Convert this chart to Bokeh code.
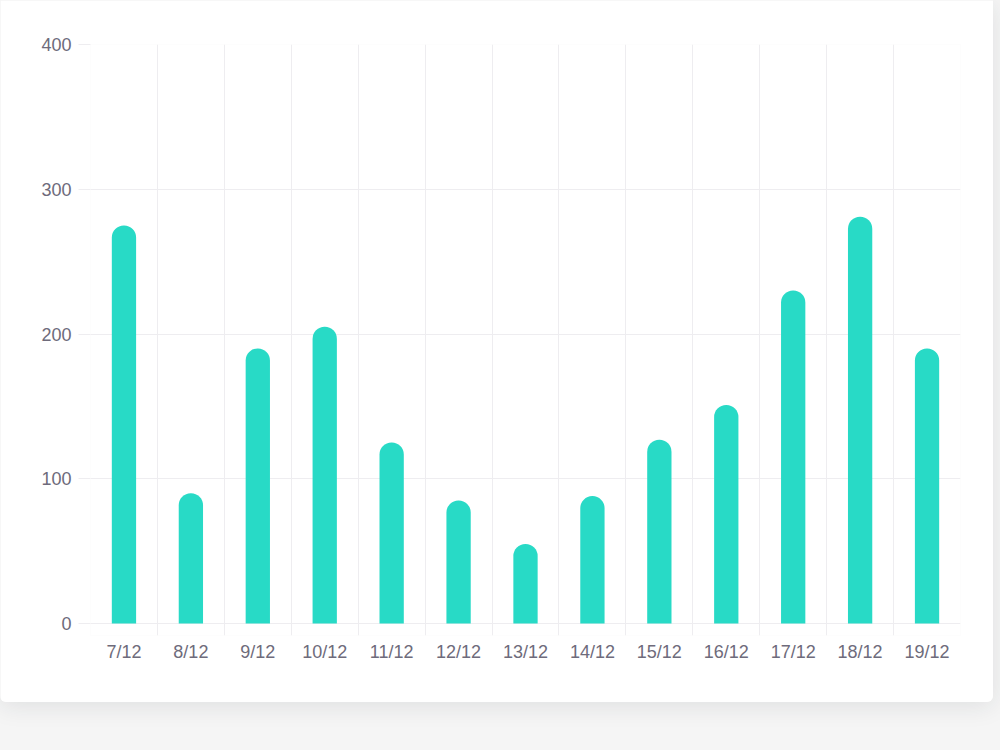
from bokeh.plotting import figure
from bokeh.models import ColumnDataSource, FixedTicker, Range1d
from bokeh.layouts import column
from bokeh.embed import file_html
from bokeh.resources import INLINE

dates = ["7/12", "8/12", "9/12", "10/12", "11/12", "12/12", "13/12",
         "14/12", "15/12", "16/12", "17/12", "18/12", "19/12"]
values = [275, 90, 190, 205, 125, 85, 55, 88, 127, 151, 230, 281, 190]
y_ticks = [0, 100, 200, 300, 400]

x = [i + 0.5 for i in range(len(dates))]
src = ColumnDataSource(dict(x=x, top=values, label=dates))

GRID = "#eeedf0"
TEXT = "#6e6b7b"
FONT = "Liberation Sans"

p = figure(width=993, height=702, x_range=Range1d(0, len(dates)),
           y_range=Range1d(-8.29, 400), output_backend="svg",
           toolbar_location=None, min_border_left=90, min_border_right=33,
           min_border_top=44, min_border_bottom=67)
p.outline_line_color = None
p.border_fill_color = "white"
p.background_fill_color = "white"

p.vbar(x="x", top="top", bottom=0, width=0.363, source=src,
       fill_color="#28dac6", line_color=None, border_radius=(12, 12, 0, 0))

p.xgrid.ticker = FixedTicker(ticks=list(range(len(dates))))
p.ygrid.ticker = FixedTicker(ticks=y_ticks)
p.xgrid.grid_line_color = GRID
p.ygrid.grid_line_color = GRID

p.xaxis.ticker = FixedTicker(ticks=x)
p.xaxis.major_label_overrides = {xi: d for xi, d in zip(x, dates)}
p.xaxis.axis_line_color = None
p.xaxis.major_tick_line_color = None
p.xaxis.minor_tick_line_color = None
p.xaxis.major_label_standoff = 0
p.xaxis.major_label_text_font = FONT
p.xaxis.major_label_text_font_size = "18px"
p.xaxis.major_label_text_color = TEXT

p.yaxis.ticker = FixedTicker(ticks=y_ticks)
p.yaxis.axis_line_color = None
p.yaxis.major_tick_out = 12
p.yaxis.major_tick_in = 0
p.yaxis.major_tick_line_color = GRID
p.yaxis.minor_tick_line_color = None
p.yaxis.major_label_standoff = 7
p.yaxis.major_label_text_font = FONT
p.yaxis.major_label_text_font_size = "18px"
p.yaxis.major_label_text_color = TEXT

p.styles = {"border-radius": "0 0 6px 6px",
            "box-shadow": "0 4px 24px 0 rgba(34,41,47,0.10)",
            "overflow": "hidden"}

page = column(p, width=1000, height=750,
              styles={"background-color": "#f5f5f5"})

open("out.html", "w").write(file_html(page, INLINE))
